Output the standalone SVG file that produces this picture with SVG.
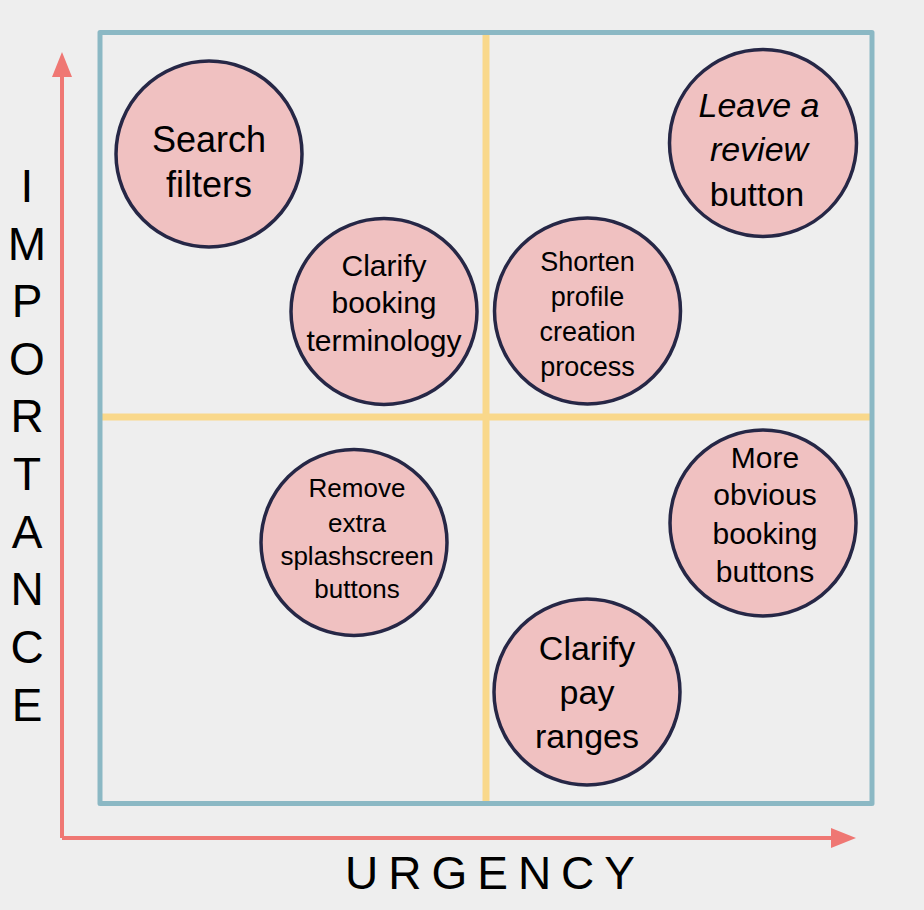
<svg xmlns="http://www.w3.org/2000/svg" width="924" height="910" viewBox="0 0 924 910">
<style>
.bg{fill:#eeeeee}
.frame{fill:none;stroke:#8bb8c4;stroke-width:5;stroke-linejoin:round}
.div{stroke:#f9d88b;stroke-width:7}
.axis{stroke:#ef7773;stroke-width:4;fill:none}
.node circle{fill:#f0c1c1;stroke:#262746;stroke-width:3.5}
.node text{font-family:"Liberation Sans",Arial,sans-serif;fill:#000;text-anchor:middle}
.lbl{font-family:"Liberation Sans",Arial,sans-serif;fill:#000;text-anchor:middle;font-size:46px}
</style>
<defs>
<marker id="ah" viewBox="0 0 25 20" refX="0" refY="10" markerWidth="25" markerHeight="20" markerUnits="userSpaceOnUse" orient="auto">
<path d="M0,0 L25,10 L0,20 Z" fill="#ef7773"/>
</marker>
</defs>
<rect class="bg" x="0" y="0" width="924" height="910"/>
<g id="frame">
<line class="div" x1="486" y1="33" x2="486" y2="803"/>
<line class="div" x1="100" y1="417" x2="872" y2="417"/>
<rect class="frame" x="100" y="32.5" width="772" height="771"/>
</g>
<g id="connectors">
<path class="axis" d="M62,838 L62,77" marker-end="url(#ah)"/>
<path class="axis" d="M62,838 L831,838" marker-end="url(#ah)"/>
</g>
<g id="axis-labels">
<text class="lbl" x="495" y="889" letter-spacing="10">URGENCY</text>
<g class="lbl">
<text class="lbl" x="27" y="202">I</text>
<text class="lbl" x="27" y="259.6">M</text>
<text class="lbl" x="27" y="317">P</text>
<text class="lbl" x="27" y="375">O</text>
<text class="lbl" x="27" y="432">R</text>
<text class="lbl" x="27" y="490">T</text>
<text class="lbl" x="27" y="548">A</text>
<text class="lbl" x="27" y="605">N</text>
<text class="lbl" x="27" y="663">C</text>
<text class="lbl" x="27" y="721">E</text>
</g>
</g>
<g id="search-filters" class="node">
<circle cx="209" cy="154" r="93"/>
<text font-size="36"><tspan x="209" y="152">Search</tspan><tspan x="209" y="197">filters</tspan></text>
</g>
<g id="clarify-booking" class="node">
<circle cx="384" cy="311.5" r="93"/>
<text font-size="30"><tspan x="384" y="276">Clarify</tspan><tspan x="384" y="313">booking</tspan><tspan x="384" y="351">terminology</tspan></text>
</g>
<g id="shorten-profile" class="node">
<circle cx="587.5" cy="311" r="93"/>
<text font-size="27"><tspan x="587.5" y="271">Shorten</tspan><tspan x="587.5" y="306">profile</tspan><tspan x="587.5" y="341">creation</tspan><tspan x="587.5" y="376">process</tspan></text>
</g>
<g id="leave-review" class="node">
<circle cx="763" cy="143" r="93.5"/>
<text font-size="34"><tspan x="759" y="117" font-style="italic">Leave a</tspan><tspan x="759" y="161" font-style="italic">review</tspan><tspan x="757" y="206">button</tspan></text>
</g>
<g id="remove-splash" class="node">
<circle cx="354" cy="542.5" r="93"/>
<text font-size="26"><tspan x="357" y="497">Remove</tspan><tspan x="357" y="532">extra</tspan><tspan x="357" y="565">splashscreen</tspan><tspan x="357" y="598">buttons</tspan></text>
</g>
<g id="more-obvious" class="node">
<circle cx="763" cy="523" r="93"/>
<text font-size="30"><tspan x="765" y="468">More</tspan><tspan x="765" y="505">obvious</tspan><tspan x="765" y="544">booking</tspan><tspan x="765" y="582">buttons</tspan></text>
</g>
<g id="clarify-pay" class="node">
<circle cx="587" cy="692" r="93"/>
<text font-size="34"><tspan x="587" y="660">Clarify</tspan><tspan x="587" y="704">pay</tspan><tspan x="587" y="748">ranges</tspan></text>
</g>
</svg>
